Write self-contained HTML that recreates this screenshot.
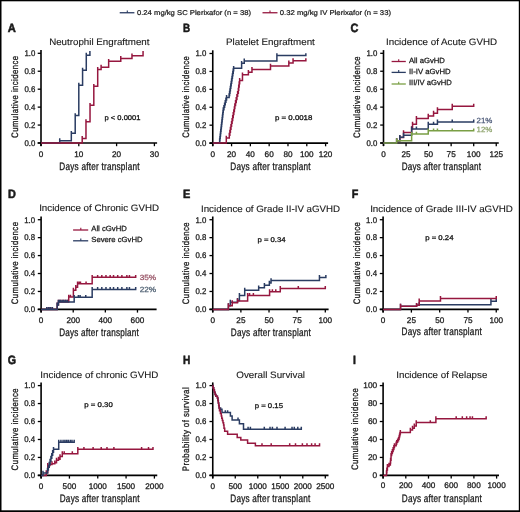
<!DOCTYPE html>
<html><head><meta charset="utf-8"><style>
html,body{margin:0;padding:0;background:#fff;}
#f{position:relative;width:520px;height:512px;overflow:hidden;background:#fff;}
svg{position:absolute;left:0;top:0;filter:blur(0.3px);}
svg text{font-family:'Liberation Sans', sans-serif;stroke-width:0.12px;text-rendering:geometricPrecision;}
</style></head><body><div id="f">
<svg width="520" height="512" viewBox="0 0 520 512" xmlns="http://www.w3.org/2000/svg" fill="#1a1a1a">
<text x="7.80" y="31.55" font-size="12.0" style="stroke-width:0.55px" font-weight="700" stroke="#1a1a1a" textLength="8.10" lengthAdjust="spacingAndGlyphs">A</text>
<text x="49.15" y="45.20" font-size="9.4" stroke="#1a1a1a" textLength="100.30" lengthAdjust="spacingAndGlyphs">Neutrophil Engraftment</text>
<line x1="41.00" y1="50.10" x2="41.00" y2="146.00" stroke="#000" stroke-width="1.6"/>
<line x1="37.70" y1="143.00" x2="41.00" y2="143.00" stroke="#000" stroke-width="1.3"/>
<text x="35.30" y="145.85" font-size="8.3" style="stroke-width:0.28px" stroke="#1a1a1a" text-anchor="end" textLength="10.90" lengthAdjust="spacingAndGlyphs">0.0</text>
<line x1="37.70" y1="125.06" x2="41.00" y2="125.06" stroke="#000" stroke-width="1.3"/>
<text x="35.30" y="127.91" font-size="8.3" style="stroke-width:0.28px" stroke="#1a1a1a" text-anchor="end" textLength="10.90" lengthAdjust="spacingAndGlyphs">0.2</text>
<line x1="37.70" y1="107.12" x2="41.00" y2="107.12" stroke="#000" stroke-width="1.3"/>
<text x="35.30" y="109.97" font-size="8.3" style="stroke-width:0.28px" stroke="#1a1a1a" text-anchor="end" textLength="10.90" lengthAdjust="spacingAndGlyphs">0.4</text>
<line x1="37.70" y1="89.18" x2="41.00" y2="89.18" stroke="#000" stroke-width="1.3"/>
<text x="35.30" y="92.03" font-size="8.3" style="stroke-width:0.28px" stroke="#1a1a1a" text-anchor="end" textLength="10.90" lengthAdjust="spacingAndGlyphs">0.6</text>
<line x1="37.70" y1="71.24" x2="41.00" y2="71.24" stroke="#000" stroke-width="1.3"/>
<text x="35.30" y="74.09" font-size="8.3" style="stroke-width:0.28px" stroke="#1a1a1a" text-anchor="end" textLength="10.90" lengthAdjust="spacingAndGlyphs">0.8</text>
<line x1="37.70" y1="53.30" x2="41.00" y2="53.30" stroke="#000" stroke-width="1.3"/>
<text x="35.30" y="56.15" font-size="8.3" style="stroke-width:0.28px" stroke="#1a1a1a" text-anchor="end" textLength="10.90" lengthAdjust="spacingAndGlyphs">1.0</text>
<line x1="37.70" y1="143.00" x2="157.10" y2="143.00" stroke="#000" stroke-width="1.6"/>
<line x1="41.00" y1="143.00" x2="41.00" y2="146.20" stroke="#000" stroke-width="1.3"/>
<text x="41.00" y="156.50" font-size="8.2" style="stroke-width:0.28px" stroke="#1a1a1a" text-anchor="middle">0</text>
<line x1="78.80" y1="143.00" x2="78.80" y2="146.20" stroke="#000" stroke-width="1.3"/>
<text x="78.80" y="156.50" font-size="8.2" style="stroke-width:0.28px" stroke="#1a1a1a" text-anchor="middle">10</text>
<line x1="116.60" y1="143.00" x2="116.60" y2="146.20" stroke="#000" stroke-width="1.3"/>
<text x="116.60" y="156.50" font-size="8.2" style="stroke-width:0.28px" stroke="#1a1a1a" text-anchor="middle">20</text>
<line x1="154.40" y1="143.00" x2="154.40" y2="146.20" stroke="#000" stroke-width="1.3"/>
<text x="154.40" y="156.50" font-size="8.2" style="stroke-width:0.28px" stroke="#1a1a1a" text-anchor="middle">30</text>
<path d="M41.00,143.00 H59.71 V138.27 V140.67 H71.32 V130.91 V133.31 H75.21 V113.15 V115.55 H78.80 V82.74 V85.14 H82.58 V67.85 V70.25 H86.28 V52.78 V55.18 H89.91 V50.90 V53.30" fill="none" stroke="#2a3c62" stroke-width="1.5"/>
<path d="M41.00,143.00 H82.20 V136.03 V138.43 H85.98 V119.34 V121.74 H90.03 V102.93 V105.33 H93.81 V83.91 V86.31 H97.70 V67.05 V69.45 H101.10 V64.80 V67.20 H108.66 V58.88 V61.28 H120.76 V56.10 V58.50 H131.98 V53.41 V55.81 H143.06 V50.90 V53.30" fill="none" stroke="#96173f" stroke-width="1.5"/>
<text x="59.35" y="169.60" font-size="10.8" letter-spacing="0.3" style="stroke-width:0.3px" stroke="#1a1a1a" textLength="80.40" lengthAdjust="spacingAndGlyphs">Days after transplant</text>
<text transform="translate(17.80,137.90) rotate(-90)" font-size="9.4" letter-spacing="0.5" style="stroke-width:0.3px" stroke="#1a1a1a" textLength="82.50" lengthAdjust="spacingAndGlyphs">Cumulative incidence</text>
<text x="104.55" y="119.90" font-size="6.9" style="stroke-width:0.3px" stroke="#1a1a1a" textLength="35.90" lengthAdjust="spacingAndGlyphs">p &lt; 0.0001</text>
<text x="182.90" y="31.55" font-size="12.0" style="stroke-width:0.55px" font-weight="700" stroke="#1a1a1a" textLength="7.10" lengthAdjust="spacingAndGlyphs">B</text>
<text x="226.05" y="45.10" font-size="9.4" stroke="#1a1a1a" textLength="88.80" lengthAdjust="spacingAndGlyphs">Platelet Engraftment</text>
<line x1="212.75" y1="50.30" x2="212.75" y2="146.10" stroke="#000" stroke-width="1.6"/>
<line x1="209.45" y1="143.10" x2="212.75" y2="143.10" stroke="#000" stroke-width="1.3"/>
<text x="206.40" y="145.95" font-size="8.3" style="stroke-width:0.28px" stroke="#1a1a1a" text-anchor="end" textLength="10.90" lengthAdjust="spacingAndGlyphs">0.0</text>
<line x1="209.45" y1="125.18" x2="212.75" y2="125.18" stroke="#000" stroke-width="1.3"/>
<text x="206.40" y="128.03" font-size="8.3" style="stroke-width:0.28px" stroke="#1a1a1a" text-anchor="end" textLength="10.90" lengthAdjust="spacingAndGlyphs">0.2</text>
<line x1="209.45" y1="107.26" x2="212.75" y2="107.26" stroke="#000" stroke-width="1.3"/>
<text x="206.40" y="110.11" font-size="8.3" style="stroke-width:0.28px" stroke="#1a1a1a" text-anchor="end" textLength="10.90" lengthAdjust="spacingAndGlyphs">0.4</text>
<line x1="209.45" y1="89.34" x2="212.75" y2="89.34" stroke="#000" stroke-width="1.3"/>
<text x="206.40" y="92.19" font-size="8.3" style="stroke-width:0.28px" stroke="#1a1a1a" text-anchor="end" textLength="10.90" lengthAdjust="spacingAndGlyphs">0.6</text>
<line x1="209.45" y1="71.42" x2="212.75" y2="71.42" stroke="#000" stroke-width="1.3"/>
<text x="206.40" y="74.27" font-size="8.3" style="stroke-width:0.28px" stroke="#1a1a1a" text-anchor="end" textLength="10.90" lengthAdjust="spacingAndGlyphs">0.8</text>
<line x1="209.45" y1="53.50" x2="212.75" y2="53.50" stroke="#000" stroke-width="1.3"/>
<text x="206.40" y="56.35" font-size="8.3" style="stroke-width:0.28px" stroke="#1a1a1a" text-anchor="end" textLength="10.90" lengthAdjust="spacingAndGlyphs">1.0</text>
<line x1="209.45" y1="143.10" x2="328.10" y2="143.10" stroke="#000" stroke-width="1.6"/>
<line x1="212.75" y1="143.10" x2="212.75" y2="146.30" stroke="#000" stroke-width="1.3"/>
<text x="212.75" y="156.50" font-size="8.2" style="stroke-width:0.28px" stroke="#1a1a1a" text-anchor="middle">0</text>
<line x1="231.56" y1="143.10" x2="231.56" y2="146.30" stroke="#000" stroke-width="1.3"/>
<text x="231.56" y="156.50" font-size="8.2" style="stroke-width:0.28px" stroke="#1a1a1a" text-anchor="middle">20</text>
<line x1="250.37" y1="143.10" x2="250.37" y2="146.30" stroke="#000" stroke-width="1.3"/>
<text x="250.37" y="156.50" font-size="8.2" style="stroke-width:0.28px" stroke="#1a1a1a" text-anchor="middle">40</text>
<line x1="269.17" y1="143.10" x2="269.17" y2="146.30" stroke="#000" stroke-width="1.3"/>
<text x="269.17" y="156.50" font-size="8.2" style="stroke-width:0.28px" stroke="#1a1a1a" text-anchor="middle">60</text>
<line x1="287.98" y1="143.10" x2="287.98" y2="146.30" stroke="#000" stroke-width="1.3"/>
<text x="287.98" y="156.50" font-size="8.2" style="stroke-width:0.28px" stroke="#1a1a1a" text-anchor="middle">80</text>
<line x1="306.79" y1="143.10" x2="306.79" y2="146.30" stroke="#000" stroke-width="1.3"/>
<text x="306.79" y="156.50" font-size="8.2" style="stroke-width:0.28px" stroke="#1a1a1a" text-anchor="middle">100</text>
<line x1="325.60" y1="143.10" x2="325.60" y2="146.30" stroke="#000" stroke-width="1.3"/>
<text x="325.60" y="156.50" font-size="8.2" style="stroke-width:0.28px" stroke="#1a1a1a" text-anchor="middle">120</text>
<path d="M212.75,143.10 H219.65 V138.32 V140.72 H219.93 V135.94 V138.34 H220.21 V133.56 V135.96 H220.49 V131.18 V133.58 H220.77 V128.80 V131.20 H221.05 V126.42 V128.82 H221.33 V124.03 V126.43 H221.61 V121.65 V124.05 H221.89 V119.27 V121.67 H222.17 V116.89 V119.29 H222.44 V114.51 V116.91 H222.72 V112.13 V114.53 H223.00 V109.75 V112.15 H223.28 V107.37 V109.77 H223.94 V104.90 V107.30 H224.60 V102.42 V104.82 H225.26 V99.95 V102.35 H225.92 V97.48 V99.88 H226.57 V95.00 V97.40 H229.11 V93.21 V95.61 H229.58 V90.73 V93.13 H229.99 V88.24 V90.64 H230.39 V85.76 V88.16 H230.80 V83.27 V85.67 H231.20 V80.79 V83.19 H231.61 V78.31 V80.71 H232.01 V75.82 V78.22 H232.41 V73.34 V75.74 H232.82 V70.85 V73.25 H233.22 V68.37 V70.77 H233.63 V65.88 V68.28 H241.62 V60.96 V63.36 H244.25 V58.54 V60.94 H276.89 V53.16 V55.56 H305.85 V53.16 V55.56" fill="none" stroke="#2a3c62" stroke-width="1.5"/>
<path d="M212.75,143.10 H226.29 V135.68 V138.08 H229.30 V132.73 V135.13 H229.87 V129.79 V132.19 H230.43 V126.84 V129.24 H230.99 V123.89 V126.29 H231.56 V120.94 V123.34 H232.12 V118.00 V120.40 H232.69 V115.05 V117.45 H233.25 V112.10 V114.50 H233.81 V109.15 V111.55 H234.38 V106.20 V108.60 H234.85 V103.14 V105.54 H235.55 V100.08 V102.48 H236.24 V97.02 V99.42 H236.94 V93.96 V96.36 H237.63 V90.90 V93.30 H238.33 V87.84 V90.24 H238.71 V84.55 V86.95 H239.18 V81.27 V83.67 H239.65 V77.98 V80.38 H242.47 V72.42 V74.82 H248.39 V69.92 V72.32 H251.96 V67.05 V69.45 H270.49 V63.64 V66.04 H288.83 V60.60 V63.00 H293.06 V58.27 V60.67 H305.85 V58.27 V60.67" fill="none" stroke="#96173f" stroke-width="1.5"/>
<text x="230.35" y="169.80" font-size="10.8" letter-spacing="0.3" style="stroke-width:0.3px" stroke="#1a1a1a" textLength="80.50" lengthAdjust="spacingAndGlyphs">Days after transplant</text>
<text transform="translate(188.80,137.80) rotate(-90)" font-size="9.4" letter-spacing="0.5" style="stroke-width:0.3px" stroke="#1a1a1a" textLength="82.00" lengthAdjust="spacingAndGlyphs">Cumulative incidence</text>
<text x="275.05" y="120.40" font-size="6.9" style="stroke-width:0.3px" stroke="#1a1a1a" textLength="37.30" lengthAdjust="spacingAndGlyphs">p = 0.0018</text>
<text x="350.40" y="31.55" font-size="12.0" style="stroke-width:0.55px" font-weight="700" stroke="#1a1a1a" textLength="7.90" lengthAdjust="spacingAndGlyphs">C</text>
<text x="386.05" y="45.20" font-size="9.4" stroke="#1a1a1a" textLength="111.10" lengthAdjust="spacingAndGlyphs">Incidence of Acute GVHD</text>
<line x1="383.50" y1="50.10" x2="383.50" y2="146.00" stroke="#000" stroke-width="1.6"/>
<line x1="380.20" y1="143.00" x2="383.50" y2="143.00" stroke="#000" stroke-width="1.3"/>
<text x="377.40" y="145.85" font-size="8.3" style="stroke-width:0.28px" stroke="#1a1a1a" text-anchor="end" textLength="10.90" lengthAdjust="spacingAndGlyphs">0.0</text>
<line x1="380.20" y1="125.06" x2="383.50" y2="125.06" stroke="#000" stroke-width="1.3"/>
<text x="377.40" y="127.91" font-size="8.3" style="stroke-width:0.28px" stroke="#1a1a1a" text-anchor="end" textLength="10.90" lengthAdjust="spacingAndGlyphs">0.2</text>
<line x1="380.20" y1="107.12" x2="383.50" y2="107.12" stroke="#000" stroke-width="1.3"/>
<text x="377.40" y="109.97" font-size="8.3" style="stroke-width:0.28px" stroke="#1a1a1a" text-anchor="end" textLength="10.90" lengthAdjust="spacingAndGlyphs">0.4</text>
<line x1="380.20" y1="89.18" x2="383.50" y2="89.18" stroke="#000" stroke-width="1.3"/>
<text x="377.40" y="92.03" font-size="8.3" style="stroke-width:0.28px" stroke="#1a1a1a" text-anchor="end" textLength="10.90" lengthAdjust="spacingAndGlyphs">0.6</text>
<line x1="380.20" y1="71.24" x2="383.50" y2="71.24" stroke="#000" stroke-width="1.3"/>
<text x="377.40" y="74.09" font-size="8.3" style="stroke-width:0.28px" stroke="#1a1a1a" text-anchor="end" textLength="10.90" lengthAdjust="spacingAndGlyphs">0.8</text>
<line x1="380.20" y1="53.30" x2="383.50" y2="53.30" stroke="#000" stroke-width="1.3"/>
<text x="377.40" y="56.15" font-size="8.3" style="stroke-width:0.28px" stroke="#1a1a1a" text-anchor="end" textLength="10.90" lengthAdjust="spacingAndGlyphs">1.0</text>
<line x1="380.20" y1="143.00" x2="498.75" y2="143.00" stroke="#000" stroke-width="1.6"/>
<line x1="383.50" y1="143.00" x2="383.50" y2="146.20" stroke="#000" stroke-width="1.3"/>
<text x="383.50" y="156.50" font-size="8.2" style="stroke-width:0.28px" stroke="#1a1a1a" text-anchor="middle">0</text>
<line x1="406.05" y1="143.00" x2="406.05" y2="146.20" stroke="#000" stroke-width="1.3"/>
<text x="406.05" y="156.50" font-size="8.2" style="stroke-width:0.28px" stroke="#1a1a1a" text-anchor="middle">25</text>
<line x1="428.60" y1="143.00" x2="428.60" y2="146.20" stroke="#000" stroke-width="1.3"/>
<text x="428.60" y="156.50" font-size="8.2" style="stroke-width:0.28px" stroke="#1a1a1a" text-anchor="middle">50</text>
<line x1="451.15" y1="143.00" x2="451.15" y2="146.20" stroke="#000" stroke-width="1.3"/>
<text x="451.15" y="156.50" font-size="8.2" style="stroke-width:0.28px" stroke="#1a1a1a" text-anchor="middle">75</text>
<line x1="473.70" y1="143.00" x2="473.70" y2="146.20" stroke="#000" stroke-width="1.3"/>
<text x="473.70" y="156.50" font-size="8.2" style="stroke-width:0.28px" stroke="#1a1a1a" text-anchor="middle">100</text>
<line x1="496.25" y1="143.00" x2="496.25" y2="146.20" stroke="#000" stroke-width="1.3"/>
<text x="496.25" y="156.50" font-size="8.2" style="stroke-width:0.28px" stroke="#1a1a1a" text-anchor="middle">125</text>
<path d="M383.50,143.00 H396.67 V138.27 V140.67 H399.83 V135.22 V137.62 H403.52 V130.19 V132.59 H411.64 V126.25 V128.65 H412.54 V121.76 V124.16 H416.42 V116.11 V118.51 H428.24 V113.69 V116.09 H433.56 V110.73 V113.13 H437.44 V107.14 V109.54 H452.23 V103.82 V106.22 H473.70 V103.82 V106.22" fill="none" stroke="#96173f" stroke-width="1.5"/>
<path d="M383.50,143.00 H396.67 V138.27 V140.67 H399.83 V134.95 V137.35 H403.52 V132.80 V135.20 H411.64 V126.61 V129.01 H416.42 V126.61 V129.01 H428.24 V121.76 V124.16 H433.56 V121.76 V124.16 H437.44 V119.61 V122.01 H452.23 V119.61 V122.01 H473.70 V119.61 V122.01" fill="none" stroke="#2a3c62" stroke-width="1.5"/>
<path d="M383.50,143.00 H396.67 V138.27 V140.67 H411.64 V131.63 V134.03 H416.42 V131.63 V134.03 H428.24 V128.40 V130.80 H433.56 V128.40 V130.80 H437.44 V128.40 V130.80 H452.23 V128.40 V130.80 H473.70 V128.40 V130.80" fill="none" stroke="#7a9f45" stroke-width="1.5"/>
<text x="401.65" y="169.60" font-size="10.8" letter-spacing="0.3" style="stroke-width:0.3px" stroke="#1a1a1a" textLength="79.60" lengthAdjust="spacingAndGlyphs">Days after transplant</text>
<text transform="translate(359.80,138.10) rotate(-90)" font-size="9.4" letter-spacing="0.5" style="stroke-width:0.3px" stroke="#1a1a1a" textLength="82.20" lengthAdjust="spacingAndGlyphs">Cumulative incidence</text>
<line x1="391.60" y1="61.50" x2="405.80" y2="61.50" stroke="#96173f" stroke-width="1.3"/>
<line x1="398.70" y1="59.20" x2="398.70" y2="61.50" stroke="#96173f" stroke-width="1.1"/>
<text x="408.95" y="62.75" font-size="7.5" style="stroke-width:0.25px" stroke="#1a1a1a" textLength="36.00" lengthAdjust="spacingAndGlyphs">All aGvHD</text>
<line x1="391.60" y1="72.40" x2="405.80" y2="72.40" stroke="#2a3c62" stroke-width="1.3"/>
<line x1="398.70" y1="70.10" x2="398.70" y2="72.40" stroke="#2a3c62" stroke-width="1.1"/>
<text x="408.95" y="73.65" font-size="7.5" style="stroke-width:0.25px" stroke="#1a1a1a" textLength="41.70" lengthAdjust="spacingAndGlyphs">II-IV aGvHD</text>
<line x1="391.60" y1="84.00" x2="405.80" y2="84.00" stroke="#7a9f45" stroke-width="1.3"/>
<line x1="398.70" y1="81.70" x2="398.70" y2="84.00" stroke="#7a9f45" stroke-width="1.1"/>
<text x="408.95" y="85.25" font-size="7.5" style="stroke-width:0.25px" stroke="#1a1a1a" textLength="42.90" lengthAdjust="spacingAndGlyphs">III/IV aGvHD</text>
<text x="476.55" y="122.60" font-size="7.5" style="stroke-width:0.25px" fill="#4c5a78" stroke="#4c5a78" textLength="15.80" lengthAdjust="spacingAndGlyphs">21%</text>
<text x="476.55" y="132.40" font-size="7.5" style="stroke-width:0.25px" fill="#8fa46e" stroke="#8fa46e" textLength="15.70" lengthAdjust="spacingAndGlyphs">12%</text>
<text x="8.05" y="197.50" font-size="12.0" style="stroke-width:0.55px" font-weight="700" stroke="#1a1a1a" textLength="7.85" lengthAdjust="spacingAndGlyphs">D</text>
<text x="39.15" y="211.45" font-size="9.4" stroke="#1a1a1a" textLength="119.85" lengthAdjust="spacingAndGlyphs">Incidence of Chronic GVHD</text>
<line x1="41.10" y1="216.50" x2="41.10" y2="312.40" stroke="#000" stroke-width="1.6"/>
<line x1="37.80" y1="309.40" x2="41.10" y2="309.40" stroke="#000" stroke-width="1.3"/>
<text x="35.10" y="312.25" font-size="8.3" style="stroke-width:0.28px" stroke="#1a1a1a" text-anchor="end" textLength="10.90" lengthAdjust="spacingAndGlyphs">0.0</text>
<line x1="37.80" y1="291.46" x2="41.10" y2="291.46" stroke="#000" stroke-width="1.3"/>
<text x="35.10" y="294.31" font-size="8.3" style="stroke-width:0.28px" stroke="#1a1a1a" text-anchor="end" textLength="10.90" lengthAdjust="spacingAndGlyphs">0.2</text>
<line x1="37.80" y1="273.52" x2="41.10" y2="273.52" stroke="#000" stroke-width="1.3"/>
<text x="35.10" y="276.37" font-size="8.3" style="stroke-width:0.28px" stroke="#1a1a1a" text-anchor="end" textLength="10.90" lengthAdjust="spacingAndGlyphs">0.4</text>
<line x1="37.80" y1="255.58" x2="41.10" y2="255.58" stroke="#000" stroke-width="1.3"/>
<text x="35.10" y="258.43" font-size="8.3" style="stroke-width:0.28px" stroke="#1a1a1a" text-anchor="end" textLength="10.90" lengthAdjust="spacingAndGlyphs">0.6</text>
<line x1="37.80" y1="237.64" x2="41.10" y2="237.64" stroke="#000" stroke-width="1.3"/>
<text x="35.10" y="240.49" font-size="8.3" style="stroke-width:0.28px" stroke="#1a1a1a" text-anchor="end" textLength="10.90" lengthAdjust="spacingAndGlyphs">0.8</text>
<line x1="37.80" y1="219.70" x2="41.10" y2="219.70" stroke="#000" stroke-width="1.3"/>
<text x="35.10" y="222.55" font-size="8.3" style="stroke-width:0.28px" stroke="#1a1a1a" text-anchor="end" textLength="10.90" lengthAdjust="spacingAndGlyphs">1.0</text>
<line x1="37.80" y1="309.40" x2="156.60" y2="309.40" stroke="#000" stroke-width="1.6"/>
<line x1="41.10" y1="309.40" x2="41.10" y2="312.60" stroke="#000" stroke-width="1.3"/>
<text x="41.10" y="322.70" font-size="8.2" style="stroke-width:0.28px" stroke="#1a1a1a" text-anchor="middle">0</text>
<line x1="73.22" y1="309.40" x2="73.22" y2="312.60" stroke="#000" stroke-width="1.3"/>
<text x="73.22" y="322.70" font-size="8.2" style="stroke-width:0.28px" stroke="#1a1a1a" text-anchor="middle">200</text>
<line x1="105.34" y1="309.40" x2="105.34" y2="312.60" stroke="#000" stroke-width="1.3"/>
<text x="105.34" y="322.70" font-size="8.2" style="stroke-width:0.28px" stroke="#1a1a1a" text-anchor="middle">400</text>
<line x1="137.46" y1="309.40" x2="137.46" y2="312.60" stroke="#000" stroke-width="1.3"/>
<text x="137.46" y="322.70" font-size="8.2" style="stroke-width:0.28px" stroke="#1a1a1a" text-anchor="middle">600</text>
<path d="M41.10,309.40 H46.72 V307.00 V309.40 H48.65 V307.00 V309.40 H50.41 V307.00 V309.40 H52.34 V307.00 V309.40 H57.16 V302.51 V304.91 H58.44 V299.64 V302.04 H59.09 V299.64 V302.04 H60.37 V299.64 V302.04 H62.14 V299.64 V302.04 H63.74 V299.64 V302.04 H65.51 V299.64 V302.04 H67.28 V299.64 V302.04 H68.72 V294.71 V297.11 H70.49 V294.71 V297.11 H73.38 V287.80 V290.20 H75.79 V284.93 V287.33 H77.56 V281.44 V283.84 H79.16 V281.44 V283.84 H80.45 V281.44 V283.84 H86.07 V281.44 V283.84 H92.17 V274.89 V277.29 H97.63 V274.89 V277.29 H101.81 V274.89 V277.29 H105.98 V274.89 V277.29 H110.16 V274.89 V277.29 H113.53 V274.89 V277.29 H117.71 V274.89 V277.29 H121.88 V274.89 V277.29 H126.86 V274.89 V277.29 H129.43 V274.89 V277.29 H135.69 V274.89 V277.29" fill="none" stroke="#96173f" stroke-width="1.5"/>
<path d="M41.10,309.40 H46.72 V307.00 V309.40 H48.65 V307.00 V309.40 H50.41 V307.00 V309.40 H52.34 V307.00 V309.40 H57.16 V302.51 V304.91 H58.44 V299.64 V302.04 H59.09 V299.64 V302.04 H60.37 V299.64 V302.04 H62.14 V299.64 V302.04 H63.74 V299.64 V302.04 H65.51 V299.64 V302.04 H67.28 V299.64 V302.04 H74.18 V294.89 V297.29 H78.36 V294.89 V297.29 H80.13 V294.89 V297.29 H85.75 V294.89 V297.29 H92.17 V287.00 V289.40 H97.63 V287.00 V289.40 H101.81 V287.00 V289.40 H105.98 V287.00 V289.40 H110.16 V287.00 V289.40 H113.53 V287.00 V289.40 H117.71 V287.00 V289.40 H121.88 V287.00 V289.40 H126.86 V287.00 V289.40 H129.43 V287.00 V289.40 H135.69 V287.00 V289.40" fill="none" stroke="#2a3c62" stroke-width="1.5"/>
<text x="59.15" y="335.90" font-size="10.8" letter-spacing="0.3" style="stroke-width:0.3px" stroke="#1a1a1a" textLength="79.90" lengthAdjust="spacingAndGlyphs">Days after transplant</text>
<text transform="translate(17.90,304.30) rotate(-90)" font-size="9.4" letter-spacing="0.5" style="stroke-width:0.3px" stroke="#1a1a1a" textLength="82.70" lengthAdjust="spacingAndGlyphs">Cumulative incidence</text>
<line x1="73.10" y1="230.00" x2="88.20" y2="230.00" stroke="#96173f" stroke-width="1.3"/>
<line x1="80.80" y1="227.70" x2="80.80" y2="230.00" stroke="#96173f" stroke-width="1.1"/>
<text x="91.25" y="230.85" font-size="7.5" style="stroke-width:0.25px" stroke="#1a1a1a" textLength="35.60" lengthAdjust="spacingAndGlyphs">All cGvHD</text>
<line x1="73.10" y1="240.80" x2="88.20" y2="240.80" stroke="#2a3c62" stroke-width="1.3"/>
<line x1="80.80" y1="238.50" x2="80.80" y2="240.80" stroke="#2a3c62" stroke-width="1.1"/>
<text x="91.25" y="242.05" font-size="7.5" style="stroke-width:0.25px" stroke="#1a1a1a" textLength="51.30" lengthAdjust="spacingAndGlyphs">Severe cGvHD</text>
<text x="139.65" y="279.70" font-size="7.5" style="stroke-width:0.25px" fill="#985466" stroke="#985466" textLength="16.50" lengthAdjust="spacingAndGlyphs">35%</text>
<text x="139.65" y="291.60" font-size="7.5" style="stroke-width:0.25px" fill="#4c5e70" stroke="#4c5e70" textLength="16.50" lengthAdjust="spacingAndGlyphs">22%</text>
<text x="182.90" y="197.50" font-size="12.0" style="stroke-width:0.55px" font-weight="700" stroke="#1a1a1a" textLength="7.30" lengthAdjust="spacingAndGlyphs">E</text>
<text x="201.00" y="211.50" font-size="9.4" stroke="#1a1a1a" textLength="139.15" lengthAdjust="spacingAndGlyphs">Incidence of Grade II-IV aGVHD</text>
<line x1="212.75" y1="216.50" x2="212.75" y2="312.40" stroke="#000" stroke-width="1.6"/>
<line x1="209.45" y1="309.40" x2="212.75" y2="309.40" stroke="#000" stroke-width="1.3"/>
<text x="206.40" y="312.25" font-size="8.3" style="stroke-width:0.28px" stroke="#1a1a1a" text-anchor="end" textLength="10.90" lengthAdjust="spacingAndGlyphs">0.0</text>
<line x1="209.45" y1="291.46" x2="212.75" y2="291.46" stroke="#000" stroke-width="1.3"/>
<text x="206.40" y="294.31" font-size="8.3" style="stroke-width:0.28px" stroke="#1a1a1a" text-anchor="end" textLength="10.90" lengthAdjust="spacingAndGlyphs">0.2</text>
<line x1="209.45" y1="273.52" x2="212.75" y2="273.52" stroke="#000" stroke-width="1.3"/>
<text x="206.40" y="276.37" font-size="8.3" style="stroke-width:0.28px" stroke="#1a1a1a" text-anchor="end" textLength="10.90" lengthAdjust="spacingAndGlyphs">0.4</text>
<line x1="209.45" y1="255.58" x2="212.75" y2="255.58" stroke="#000" stroke-width="1.3"/>
<text x="206.40" y="258.43" font-size="8.3" style="stroke-width:0.28px" stroke="#1a1a1a" text-anchor="end" textLength="10.90" lengthAdjust="spacingAndGlyphs">0.6</text>
<line x1="209.45" y1="237.64" x2="212.75" y2="237.64" stroke="#000" stroke-width="1.3"/>
<text x="206.40" y="240.49" font-size="8.3" style="stroke-width:0.28px" stroke="#1a1a1a" text-anchor="end" textLength="10.90" lengthAdjust="spacingAndGlyphs">0.8</text>
<line x1="209.45" y1="219.70" x2="212.75" y2="219.70" stroke="#000" stroke-width="1.3"/>
<text x="206.40" y="222.55" font-size="8.3" style="stroke-width:0.28px" stroke="#1a1a1a" text-anchor="end" textLength="10.90" lengthAdjust="spacingAndGlyphs">1.0</text>
<line x1="209.45" y1="309.40" x2="328.60" y2="309.40" stroke="#000" stroke-width="1.6"/>
<line x1="212.75" y1="309.40" x2="212.75" y2="312.60" stroke="#000" stroke-width="1.3"/>
<text x="212.75" y="322.70" font-size="8.2" style="stroke-width:0.28px" stroke="#1a1a1a" text-anchor="middle">0</text>
<line x1="240.89" y1="309.40" x2="240.89" y2="312.60" stroke="#000" stroke-width="1.3"/>
<text x="240.89" y="322.70" font-size="8.2" style="stroke-width:0.28px" stroke="#1a1a1a" text-anchor="middle">25</text>
<line x1="269.02" y1="309.40" x2="269.02" y2="312.60" stroke="#000" stroke-width="1.3"/>
<text x="269.02" y="322.70" font-size="8.2" style="stroke-width:0.28px" stroke="#1a1a1a" text-anchor="middle">50</text>
<line x1="297.16" y1="309.40" x2="297.16" y2="312.60" stroke="#000" stroke-width="1.3"/>
<text x="297.16" y="322.70" font-size="8.2" style="stroke-width:0.28px" stroke="#1a1a1a" text-anchor="middle">75</text>
<line x1="325.30" y1="309.40" x2="325.30" y2="312.60" stroke="#000" stroke-width="1.3"/>
<text x="325.30" y="322.70" font-size="8.2" style="stroke-width:0.28px" stroke="#1a1a1a" text-anchor="middle">100</text>
<path d="M212.75,309.40 H228.39 V303.23 V305.63 H230.31 V299.82 V302.22 H237.51 V298.03 V300.43 H239.42 V293.10 V295.50 H244.71 V287.80 V290.20 H258.67 V285.38 V287.78 H264.41 V282.96 V285.36 H269.36 V280.63 V283.03 H271.05 V278.21 V280.61 H319.45 V274.98 V277.38 H325.86 V274.98 V277.38" fill="none" stroke="#2a3c62" stroke-width="1.5"/>
<path d="M212.75,309.40 H228.39 V303.23 V305.63 H232.22 V300.27 V302.67 H237.51 V298.57 V300.97 H247.64 V293.10 V295.50 H249.55 V293.10 V295.50 H253.38 V293.10 V295.50 H269.59 V289.24 V291.64 H272.40 V289.24 V291.64 H275.78 V289.24 V291.64 H280.28 V286.01 V288.41 H298.29 V286.01 V288.41 H325.30 V286.01 V288.41" fill="none" stroke="#96173f" stroke-width="1.5"/>
<text x="230.85" y="335.70" font-size="10.8" letter-spacing="0.3" style="stroke-width:0.3px" stroke="#1a1a1a" textLength="80.20" lengthAdjust="spacingAndGlyphs">Days after transplant</text>
<text transform="translate(188.90,304.30) rotate(-90)" font-size="9.4" letter-spacing="0.5" style="stroke-width:0.3px" stroke="#1a1a1a" textLength="82.40" lengthAdjust="spacingAndGlyphs">Cumulative incidence</text>
<text x="257.45" y="241.50" font-size="6.9" style="stroke-width:0.3px" stroke="#1a1a1a" textLength="28.20" lengthAdjust="spacingAndGlyphs">p = 0.34</text>
<text x="351.70" y="197.50" font-size="12.0" style="stroke-width:0.55px" font-weight="700" stroke="#1a1a1a" textLength="6.60" lengthAdjust="spacingAndGlyphs">F</text>
<text x="370.15" y="211.70" font-size="9.4" stroke="#1a1a1a" textLength="142.80" lengthAdjust="spacingAndGlyphs">Incidence of Grade III-IV aGVHD</text>
<line x1="383.10" y1="216.50" x2="383.10" y2="312.40" stroke="#000" stroke-width="1.6"/>
<line x1="379.80" y1="309.40" x2="383.10" y2="309.40" stroke="#000" stroke-width="1.3"/>
<text x="377.00" y="312.25" font-size="8.3" style="stroke-width:0.28px" stroke="#1a1a1a" text-anchor="end" textLength="10.90" lengthAdjust="spacingAndGlyphs">0.0</text>
<line x1="379.80" y1="291.46" x2="383.10" y2="291.46" stroke="#000" stroke-width="1.3"/>
<text x="377.00" y="294.31" font-size="8.3" style="stroke-width:0.28px" stroke="#1a1a1a" text-anchor="end" textLength="10.90" lengthAdjust="spacingAndGlyphs">0.2</text>
<line x1="379.80" y1="273.52" x2="383.10" y2="273.52" stroke="#000" stroke-width="1.3"/>
<text x="377.00" y="276.37" font-size="8.3" style="stroke-width:0.28px" stroke="#1a1a1a" text-anchor="end" textLength="10.90" lengthAdjust="spacingAndGlyphs">0.4</text>
<line x1="379.80" y1="255.58" x2="383.10" y2="255.58" stroke="#000" stroke-width="1.3"/>
<text x="377.00" y="258.43" font-size="8.3" style="stroke-width:0.28px" stroke="#1a1a1a" text-anchor="end" textLength="10.90" lengthAdjust="spacingAndGlyphs">0.6</text>
<line x1="379.80" y1="237.64" x2="383.10" y2="237.64" stroke="#000" stroke-width="1.3"/>
<text x="377.00" y="240.49" font-size="8.3" style="stroke-width:0.28px" stroke="#1a1a1a" text-anchor="end" textLength="10.90" lengthAdjust="spacingAndGlyphs">0.8</text>
<line x1="379.80" y1="219.70" x2="383.10" y2="219.70" stroke="#000" stroke-width="1.3"/>
<text x="377.00" y="222.55" font-size="8.3" style="stroke-width:0.28px" stroke="#1a1a1a" text-anchor="end" textLength="10.90" lengthAdjust="spacingAndGlyphs">1.0</text>
<line x1="379.80" y1="309.40" x2="498.75" y2="309.40" stroke="#000" stroke-width="1.6"/>
<line x1="383.10" y1="309.40" x2="383.10" y2="312.60" stroke="#000" stroke-width="1.3"/>
<text x="383.10" y="322.70" font-size="8.2" style="stroke-width:0.28px" stroke="#1a1a1a" text-anchor="middle">0</text>
<line x1="411.39" y1="309.40" x2="411.39" y2="312.60" stroke="#000" stroke-width="1.3"/>
<text x="411.39" y="322.70" font-size="8.2" style="stroke-width:0.28px" stroke="#1a1a1a" text-anchor="middle">25</text>
<line x1="439.68" y1="309.40" x2="439.68" y2="312.60" stroke="#000" stroke-width="1.3"/>
<text x="439.68" y="322.70" font-size="8.2" style="stroke-width:0.28px" stroke="#1a1a1a" text-anchor="middle">50</text>
<line x1="467.96" y1="309.40" x2="467.96" y2="312.60" stroke="#000" stroke-width="1.3"/>
<text x="467.96" y="322.70" font-size="8.2" style="stroke-width:0.28px" stroke="#1a1a1a" text-anchor="middle">75</text>
<line x1="496.25" y1="309.40" x2="496.25" y2="312.60" stroke="#000" stroke-width="1.3"/>
<text x="496.25" y="322.70" font-size="8.2" style="stroke-width:0.28px" stroke="#1a1a1a" text-anchor="middle">100</text>
<path d="M383.10,309.40 H400.53 V303.86 V306.26 H416.59 V302.96 V305.36 H419.19 V302.34 V304.74 H490.93 V298.93 V301.33 H496.25 V298.93 V301.33" fill="none" stroke="#2a3c62" stroke-width="1.5"/>
<path d="M383.10,309.40 H400.53 V303.86 V306.26 H416.59 V302.96 V305.36 H419.19 V298.48 V300.88 H440.47 V296.10 V298.50 H496.25 V296.10 V298.50" fill="none" stroke="#96173f" stroke-width="1.5"/>
<text x="401.55" y="335.30" font-size="10.8" letter-spacing="0.3" style="stroke-width:0.3px" stroke="#1a1a1a" textLength="80.40" lengthAdjust="spacingAndGlyphs">Days after transplant</text>
<text transform="translate(359.80,304.25) rotate(-90)" font-size="9.4" letter-spacing="0.5" style="stroke-width:0.3px" stroke="#1a1a1a" textLength="82.45" lengthAdjust="spacingAndGlyphs">Cumulative incidence</text>
<text x="425.25" y="240.40" font-size="6.9" style="stroke-width:0.3px" stroke="#1a1a1a" textLength="28.20" lengthAdjust="spacingAndGlyphs">p = 0.24</text>
<text x="7.80" y="364.30" font-size="12.0" style="stroke-width:0.55px" font-weight="700" stroke="#1a1a1a" textLength="8.30" lengthAdjust="spacingAndGlyphs">G</text>
<text x="40.35" y="377.80" font-size="9.4" stroke="#1a1a1a" textLength="118.00" lengthAdjust="spacingAndGlyphs">Incidence of chronic GVHD</text>
<line x1="41.10" y1="382.40" x2="41.10" y2="478.40" stroke="#000" stroke-width="1.6"/>
<line x1="37.80" y1="475.40" x2="41.10" y2="475.40" stroke="#000" stroke-width="1.3"/>
<text x="35.10" y="478.25" font-size="8.3" style="stroke-width:0.28px" stroke="#1a1a1a" text-anchor="end" textLength="10.90" lengthAdjust="spacingAndGlyphs">0.0</text>
<line x1="37.80" y1="457.44" x2="41.10" y2="457.44" stroke="#000" stroke-width="1.3"/>
<text x="35.10" y="460.29" font-size="8.3" style="stroke-width:0.28px" stroke="#1a1a1a" text-anchor="end" textLength="10.90" lengthAdjust="spacingAndGlyphs">0.2</text>
<line x1="37.80" y1="439.48" x2="41.10" y2="439.48" stroke="#000" stroke-width="1.3"/>
<text x="35.10" y="442.33" font-size="8.3" style="stroke-width:0.28px" stroke="#1a1a1a" text-anchor="end" textLength="10.90" lengthAdjust="spacingAndGlyphs">0.4</text>
<line x1="37.80" y1="421.52" x2="41.10" y2="421.52" stroke="#000" stroke-width="1.3"/>
<text x="35.10" y="424.37" font-size="8.3" style="stroke-width:0.28px" stroke="#1a1a1a" text-anchor="end" textLength="10.90" lengthAdjust="spacingAndGlyphs">0.6</text>
<line x1="37.80" y1="403.56" x2="41.10" y2="403.56" stroke="#000" stroke-width="1.3"/>
<text x="35.10" y="406.41" font-size="8.3" style="stroke-width:0.28px" stroke="#1a1a1a" text-anchor="end" textLength="10.90" lengthAdjust="spacingAndGlyphs">0.8</text>
<line x1="37.80" y1="385.60" x2="41.10" y2="385.60" stroke="#000" stroke-width="1.3"/>
<text x="35.10" y="388.45" font-size="8.3" style="stroke-width:0.28px" stroke="#1a1a1a" text-anchor="end" textLength="10.90" lengthAdjust="spacingAndGlyphs">1.0</text>
<line x1="37.80" y1="475.40" x2="157.25" y2="475.40" stroke="#000" stroke-width="1.6"/>
<line x1="41.10" y1="475.40" x2="41.10" y2="478.60" stroke="#000" stroke-width="1.3"/>
<text x="41.10" y="488.60" font-size="8.2" style="stroke-width:0.28px" stroke="#1a1a1a" text-anchor="middle">0</text>
<line x1="69.42" y1="475.40" x2="69.42" y2="478.60" stroke="#000" stroke-width="1.3"/>
<text x="69.42" y="488.60" font-size="8.2" style="stroke-width:0.28px" stroke="#1a1a1a" text-anchor="middle">500</text>
<line x1="97.75" y1="475.40" x2="97.75" y2="478.60" stroke="#000" stroke-width="1.3"/>
<text x="97.75" y="488.60" font-size="8.2" style="stroke-width:0.28px" stroke="#1a1a1a" text-anchor="middle">1000</text>
<line x1="126.07" y1="475.40" x2="126.07" y2="478.60" stroke="#000" stroke-width="1.3"/>
<text x="126.07" y="488.60" font-size="8.2" style="stroke-width:0.28px" stroke="#1a1a1a" text-anchor="middle">1500</text>
<line x1="154.40" y1="475.40" x2="154.40" y2="478.60" stroke="#000" stroke-width="1.3"/>
<text x="154.40" y="488.60" font-size="8.2" style="stroke-width:0.28px" stroke="#1a1a1a" text-anchor="middle">2000</text>
<path d="M41.10,475.40 H46.31 V470.31 V472.71 H47.78 V463.12 V465.52 H49.99 V462.22 V464.62 H51.98 V461.33 V463.73 H54.81 V460.43 V462.83 H56.51 V457.73 V460.13 H58.49 V456.84 V459.24 H60.02 V454.14 V456.54 H62.29 V451.27 V453.67 H64.21 V451.27 V453.67 H72.31 V451.27 V453.67 H77.81 V446.96 V449.36 H83.93 V446.96 V449.36 H93.10 V446.96 V449.36 H101.21 V446.96 V449.36 H106.98 V446.96 V449.36 H113.90 V446.96 V449.36 H141.60 V446.96 V449.36 H148.51 V446.96 V449.36 H152.98 V446.96 V449.36" fill="none" stroke="#96173f" stroke-width="1.5"/>
<path d="M41.10,475.40 H42.97 V470.67 V473.07 H47.50 V467.70 V470.10 H48.36 V464.74 V467.14 H49.22 V461.77 V464.17 H50.07 V458.81 V461.21 H50.93 V455.85 V458.25 H51.79 V452.88 V455.28 H52.65 V449.92 V452.32 H53.51 V446.96 V449.36 H58.72 V439.77 V442.17 H60.93 V439.77 V442.17 H63.08 V439.77 V442.17 H64.89 V439.77 V442.17 H66.59 V439.77 V442.17 H68.29 V439.77 V442.17 H70.27 V439.77 V442.17 H71.97 V439.77 V442.17 H74.18 V439.77 V442.17" fill="none" stroke="#2a3c62" stroke-width="1.5"/>
<text x="59.75" y="502.25" font-size="10.8" letter-spacing="0.3" style="stroke-width:0.3px" stroke="#1a1a1a" textLength="80.10" lengthAdjust="spacingAndGlyphs">Days after transplant</text>
<text transform="translate(17.80,470.40) rotate(-90)" font-size="9.4" letter-spacing="0.5" style="stroke-width:0.3px" stroke="#1a1a1a" textLength="82.50" lengthAdjust="spacingAndGlyphs">Cumulative incidence</text>
<text x="84.35" y="407.00" font-size="6.9" style="stroke-width:0.3px" stroke="#1a1a1a" textLength="28.40" lengthAdjust="spacingAndGlyphs">p = 0.30</text>
<text x="182.90" y="364.30" font-size="12.0" style="stroke-width:0.55px" font-weight="700" stroke="#1a1a1a" textLength="7.30" lengthAdjust="spacingAndGlyphs">H</text>
<text x="236.25" y="377.50" font-size="9.4" stroke="#1a1a1a" textLength="68.80" lengthAdjust="spacingAndGlyphs">Overall Survival</text>
<line x1="212.75" y1="382.40" x2="212.75" y2="478.40" stroke="#000" stroke-width="1.6"/>
<line x1="209.45" y1="475.40" x2="212.75" y2="475.40" stroke="#000" stroke-width="1.3"/>
<text x="206.40" y="478.25" font-size="8.3" style="stroke-width:0.28px" stroke="#1a1a1a" text-anchor="end" textLength="10.90" lengthAdjust="spacingAndGlyphs">0.0</text>
<line x1="209.45" y1="457.44" x2="212.75" y2="457.44" stroke="#000" stroke-width="1.3"/>
<text x="206.40" y="460.29" font-size="8.3" style="stroke-width:0.28px" stroke="#1a1a1a" text-anchor="end" textLength="10.90" lengthAdjust="spacingAndGlyphs">0.2</text>
<line x1="209.45" y1="439.48" x2="212.75" y2="439.48" stroke="#000" stroke-width="1.3"/>
<text x="206.40" y="442.33" font-size="8.3" style="stroke-width:0.28px" stroke="#1a1a1a" text-anchor="end" textLength="10.90" lengthAdjust="spacingAndGlyphs">0.4</text>
<line x1="209.45" y1="421.52" x2="212.75" y2="421.52" stroke="#000" stroke-width="1.3"/>
<text x="206.40" y="424.37" font-size="8.3" style="stroke-width:0.28px" stroke="#1a1a1a" text-anchor="end" textLength="10.90" lengthAdjust="spacingAndGlyphs">0.6</text>
<line x1="209.45" y1="403.56" x2="212.75" y2="403.56" stroke="#000" stroke-width="1.3"/>
<text x="206.40" y="406.41" font-size="8.3" style="stroke-width:0.28px" stroke="#1a1a1a" text-anchor="end" textLength="10.90" lengthAdjust="spacingAndGlyphs">0.8</text>
<line x1="209.45" y1="385.60" x2="212.75" y2="385.60" stroke="#000" stroke-width="1.3"/>
<text x="206.40" y="388.45" font-size="8.3" style="stroke-width:0.28px" stroke="#1a1a1a" text-anchor="end" textLength="10.90" lengthAdjust="spacingAndGlyphs">1.0</text>
<line x1="209.45" y1="475.40" x2="328.50" y2="475.40" stroke="#000" stroke-width="1.6"/>
<line x1="212.75" y1="475.40" x2="212.75" y2="478.60" stroke="#000" stroke-width="1.3"/>
<text x="212.75" y="488.50" font-size="8.2" style="stroke-width:0.28px" stroke="#1a1a1a" text-anchor="middle">0</text>
<line x1="235.26" y1="475.40" x2="235.26" y2="478.60" stroke="#000" stroke-width="1.3"/>
<text x="235.26" y="488.50" font-size="8.2" style="stroke-width:0.28px" stroke="#1a1a1a" text-anchor="middle">500</text>
<line x1="257.77" y1="475.40" x2="257.77" y2="478.60" stroke="#000" stroke-width="1.3"/>
<text x="257.77" y="488.50" font-size="8.2" style="stroke-width:0.28px" stroke="#1a1a1a" text-anchor="middle">1000</text>
<line x1="280.28" y1="475.40" x2="280.28" y2="478.60" stroke="#000" stroke-width="1.3"/>
<text x="280.28" y="488.50" font-size="8.2" style="stroke-width:0.28px" stroke="#1a1a1a" text-anchor="middle">1500</text>
<line x1="302.79" y1="475.40" x2="302.79" y2="478.60" stroke="#000" stroke-width="1.3"/>
<text x="302.79" y="488.50" font-size="8.2" style="stroke-width:0.28px" stroke="#1a1a1a" text-anchor="middle">2000</text>
<line x1="325.30" y1="475.40" x2="325.30" y2="478.60" stroke="#000" stroke-width="1.3"/>
<text x="325.30" y="488.50" font-size="8.2" style="stroke-width:0.28px" stroke="#1a1a1a" text-anchor="middle">2500</text>
<path d="M212.75,385.60 H212.98 V387.84 H213.68 V390.09 H214.39 V392.33 H215.09 V394.58 H215.90 V396.24 H217.39 V397.90 H217.93 V400.44 H218.32 V402.98 H218.71 V405.51 H219.10 V408.05 H220.63 V409.13 H221.98 V412.54 H225.31 V410.14 V412.54 H227.61 V410.14 V412.54 H230.40 V416.04 H232.11 V419.99 H238.01 V417.59 V419.99 H239.40 V423.76 H243.50 V429.24 H248.09 V426.84 V429.24 H250.39 V426.84 V429.24 H264.30 V426.84 V429.24 H270.02 V426.84 V429.24 H272.40 V426.84 V429.24 H276.99 V426.84 V429.24 H285.10 V426.84 V429.24 H292.03 V426.84 V429.24 H294.28 V426.84 V429.24 H297.79 V426.84 V429.24 H301.30 V426.84 V429.24" fill="none" stroke="#2a3c62" stroke-width="1.5"/>
<path d="M212.75,385.60 H212.98 V387.84 H213.68 V390.09 H214.39 V392.33 H215.09 V394.58 H215.90 V396.24 H217.39 V397.90 H217.93 V400.44 H218.32 V402.98 H218.71 V405.51 H219.10 V408.05 H219.50 V410.71 H220.40 V413.38 H221.30 V416.04 H221.75 V418.29 H222.37 V420.53 H222.98 V422.78 H223.60 V425.02 H224.00 V428.17 H224.68 V431.31 H227.61 V434.27 H237.20 V437.50 H240.80 V439.93 H247.60 V443.16 H255.38 V445.77 H262.00 V443.37 V445.77 H271.19 V443.37 V445.77 H289.69 V443.37 V445.77 H295.50 V443.37 V445.77 H302.38 V443.37 V445.77 H306.98 V443.37 V445.77 H311.61 V443.37 V445.77 H315.08 V443.37 V445.77 H319.54 V443.37 V445.77" fill="none" stroke="#96173f" stroke-width="1.5"/>
<text x="230.35" y="501.80" font-size="10.8" letter-spacing="0.3" style="stroke-width:0.3px" stroke="#1a1a1a" textLength="80.10" lengthAdjust="spacingAndGlyphs">Days after transplant</text>
<text transform="translate(188.80,471.30) rotate(-90)" font-size="9.4" letter-spacing="0.5" style="stroke-width:0.3px" stroke="#1a1a1a" textLength="84.40" lengthAdjust="spacingAndGlyphs">Probability of survival</text>
<text x="254.75" y="407.50" font-size="6.9" style="stroke-width:0.3px" stroke="#1a1a1a" textLength="28.20" lengthAdjust="spacingAndGlyphs">p = 0.15</text>
<text x="352.90" y="364.30" font-size="12.0" style="stroke-width:0.55px" font-weight="700" stroke="#1a1a1a" textLength="2.90" lengthAdjust="spacingAndGlyphs">I</text>
<text x="396.25" y="377.70" font-size="9.4" stroke="#1a1a1a" textLength="91.10" lengthAdjust="spacingAndGlyphs">Incidence of Relapse</text>
<line x1="383.10" y1="382.40" x2="383.10" y2="478.40" stroke="#000" stroke-width="1.6"/>
<line x1="379.80" y1="475.40" x2="383.10" y2="475.40" stroke="#000" stroke-width="1.3"/>
<text x="377.20" y="478.25" font-size="8.3" style="stroke-width:0.28px" stroke="#1a1a1a" text-anchor="end">0</text>
<line x1="379.80" y1="457.44" x2="383.10" y2="457.44" stroke="#000" stroke-width="1.3"/>
<text x="377.20" y="460.29" font-size="8.3" style="stroke-width:0.28px" stroke="#1a1a1a" text-anchor="end">20</text>
<line x1="379.80" y1="439.48" x2="383.10" y2="439.48" stroke="#000" stroke-width="1.3"/>
<text x="377.20" y="442.33" font-size="8.3" style="stroke-width:0.28px" stroke="#1a1a1a" text-anchor="end">40</text>
<line x1="379.80" y1="421.52" x2="383.10" y2="421.52" stroke="#000" stroke-width="1.3"/>
<text x="377.20" y="424.37" font-size="8.3" style="stroke-width:0.28px" stroke="#1a1a1a" text-anchor="end">60</text>
<line x1="379.80" y1="403.56" x2="383.10" y2="403.56" stroke="#000" stroke-width="1.3"/>
<text x="377.20" y="406.41" font-size="8.3" style="stroke-width:0.28px" stroke="#1a1a1a" text-anchor="end">80</text>
<line x1="379.80" y1="385.60" x2="383.10" y2="385.60" stroke="#000" stroke-width="1.3"/>
<text x="377.20" y="388.45" font-size="8.3" style="stroke-width:0.28px" stroke="#1a1a1a" text-anchor="end">100</text>
<line x1="379.80" y1="475.40" x2="499.00" y2="475.40" stroke="#000" stroke-width="1.6"/>
<line x1="383.10" y1="475.40" x2="383.10" y2="478.60" stroke="#000" stroke-width="1.3"/>
<text x="383.10" y="488.40" font-size="8.2" style="stroke-width:0.28px" stroke="#1a1a1a" text-anchor="middle">0</text>
<line x1="405.80" y1="475.40" x2="405.80" y2="478.60" stroke="#000" stroke-width="1.3"/>
<text x="405.80" y="488.40" font-size="8.2" style="stroke-width:0.28px" stroke="#1a1a1a" text-anchor="middle">200</text>
<line x1="428.50" y1="475.40" x2="428.50" y2="478.60" stroke="#000" stroke-width="1.3"/>
<text x="428.50" y="488.40" font-size="8.2" style="stroke-width:0.28px" stroke="#1a1a1a" text-anchor="middle">400</text>
<line x1="451.20" y1="475.40" x2="451.20" y2="478.60" stroke="#000" stroke-width="1.3"/>
<text x="451.20" y="488.40" font-size="8.2" style="stroke-width:0.28px" stroke="#1a1a1a" text-anchor="middle">600</text>
<line x1="473.90" y1="475.40" x2="473.90" y2="478.60" stroke="#000" stroke-width="1.3"/>
<text x="473.90" y="488.40" font-size="8.2" style="stroke-width:0.28px" stroke="#1a1a1a" text-anchor="middle">800</text>
<line x1="496.60" y1="475.40" x2="496.60" y2="478.60" stroke="#000" stroke-width="1.3"/>
<text x="496.60" y="488.40" font-size="8.2" style="stroke-width:0.28px" stroke="#1a1a1a" text-anchor="middle">1000</text>
<path d="M383.10,475.40 H386.50 V470.31 V472.71 H386.85 V467.61 V470.01 H387.41 V464.11 V466.51 H389.00 V462.67 V465.07 H390.36 V460.61 V463.01 H390.59 V457.73 V460.13 H391.05 V453.06 V455.46 H391.61 V451.04 V453.44 H392.37 V449.02 V451.42 H393.13 V447.00 V449.40 H393.88 V444.98 V447.38 H394.45 V443.23 V445.63 H396.15 V441.48 V443.88 H396.72 V439.95 V442.35 H397.63 V438.43 V440.83 H398.54 V436.90 V439.30 H399.10 V435.17 V437.57 H399.52 V433.44 V435.84 H399.94 V431.71 V434.11 H400.35 V429.99 V432.39 H410.34 V427.65 V430.05 H412.50 V425.86 V428.25 H414.31 V423.61 V426.01 H416.24 V420.20 V422.60 H430.32 V420.20 V422.60 H435.88 V416.25 V418.65 H456.19 V416.25 V418.65 H462.32 V416.25 V418.65 H466.64 V416.25 V418.65 H470.04 V416.25 V418.65 H472.42 V416.25 V418.65 H486.16 V416.25 V418.65" fill="none" stroke="#96173f" stroke-width="1.5"/>
<text x="401.75" y="502.30" font-size="10.8" letter-spacing="0.3" style="stroke-width:0.3px" stroke="#1a1a1a" textLength="80.30" lengthAdjust="spacingAndGlyphs">Days after transplant</text>
<text transform="translate(357.60,470.10) rotate(-90)" font-size="9.4" letter-spacing="0.5" style="stroke-width:0.3px" stroke="#1a1a1a" textLength="82.40" lengthAdjust="spacingAndGlyphs">Cumulative incidence</text>
<line x1="119.70" y1="12.75" x2="134.40" y2="12.75" stroke="#2a3c62" stroke-width="1.3"/>
<line x1="127.30" y1="10.40" x2="127.30" y2="12.75" stroke="#2a3c62" stroke-width="1.1"/>
<text x="136.95" y="15.00" font-size="7.0" style="stroke-width:0.22px" stroke="#1a1a1a" textLength="114.05" lengthAdjust="spacingAndGlyphs">0.24 mg/kg SC Plerixafor (n = 38)</text>
<line x1="262.50" y1="12.75" x2="277.50" y2="12.75" stroke="#96173f" stroke-width="1.3"/>
<line x1="270.00" y1="10.40" x2="270.00" y2="12.75" stroke="#96173f" stroke-width="1.1"/>
<text x="279.75" y="15.00" font-size="7.0" style="stroke-width:0.22px" stroke="#1a1a1a" textLength="111.25" lengthAdjust="spacingAndGlyphs">0.32 mg/kg IV Plerixafor (n = 33)</text>
</svg>
<svg width="520" height="512" viewBox="0 0 520 512" xmlns="http://www.w3.org/2000/svg" style="filter:none">
<rect x="0" y="0" width="1.5" height="512" fill="#000"/>
<rect x="0" y="0" width="520" height="1.3" fill="#000"/>
<rect x="518.8" y="0" width="1.2" height="512" fill="#000"/>
<rect x="0" y="510.3" width="520" height="1.7" fill="#000"/>
</svg></div></body></html>
